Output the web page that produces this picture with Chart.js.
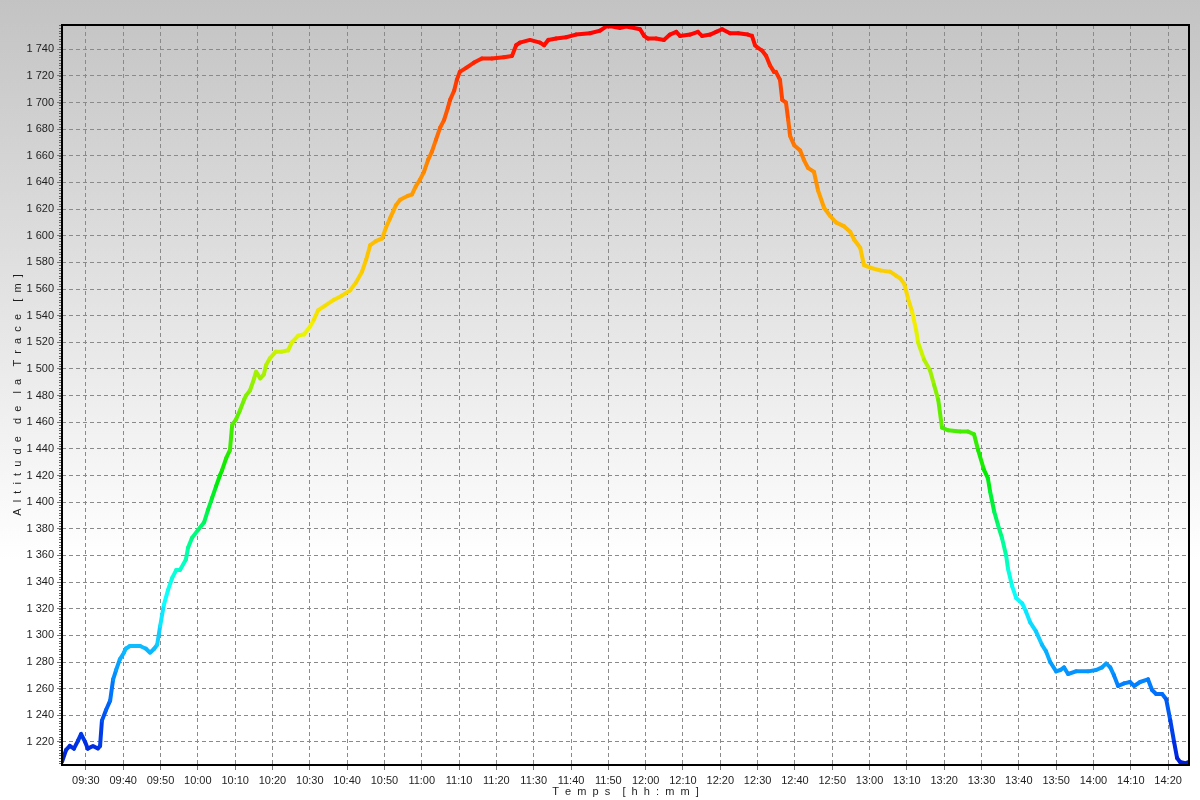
<!DOCTYPE html>
<html>
<head>
<meta charset="utf-8">
<title>Altitude de la Trace</title>
<script src="https://cdn.jsdelivr.net/npm/chart.js@4.4.1/dist/chart.umd.min.js"></script>
<style>
    html, body { margin: 0; padding: 0; background: #fff; }
    canvas { display: block; }
</style>
</head>
<body>
<canvas id="profile_canvas" width="1200" height="800"></canvas>
<script>
// temps en minutes depuis minuit
const minutes = [
    563.6, 564.7, 565.7, 566.8, 567.9, 568.7, 569.8, 570.5, 571.9, 573.2, 573.8, 574.3, 575.4, 576.5, 577.3, 578.1,
    579.1, 580.2, 580.7, 581.8, 584.5, 586.1, 587.2, 588.3, 589.1, 589.9, 590.9, 592.0, 593.1, 594.2, 595.2, 596.8,
    597.4, 598.4, 600.0, 601.7, 602.7, 603.8, 604.9, 605.9, 606.5, 607.6, 608.6, 609.2, 610.2, 611.3, 612.4, 612.9,
    614.0, 615.1, 615.6, 616.7, 617.7, 618.3, 619.3, 620.9, 622.5, 624.2, 625.2, 626.9, 628.5, 630.1, 631.1, 632.2,
    633.8, 636.5, 638.6, 640.8, 642.4, 644.0, 645.1, 646.2, 647.7, 649.4, 650.4, 651.5, 653.1, 654.2, 656.3, 657.4,
    658.4, 659.5, 660.6, 661.7, 662.7, 663.8, 664.9, 666.0, 667.0, 667.6, 668.7, 669.4, 670.2, 671.9, 674.0, 676.1,
    678.8, 682.0, 684.2, 685.3, 686.3, 689.0, 691.7, 692.8, 693.9, 696.0, 698.7, 701.3, 705.1, 707.8, 709.4, 711.0,
    713.1, 714.7, 716.9, 718.5, 719.6, 720.6, 722.8, 724.9, 726.5, 728.2, 729.2, 731.9, 734.0, 735.1, 737.3, 738.9,
    740.5, 742.6, 744.8, 747.4, 748.5, 749.3, 750.1, 751.2, 752.3, 753.3, 754.4, 754.9, 756.0, 756.6, 757.6, 758.2,
    758.7, 759.8, 761.4, 762.4, 763.5, 765.1, 766.2, 767.8, 769.4, 771.0, 773.2, 774.8, 775.9, 777.5, 778.5, 780.2,
    782.8, 785.5, 787.1, 788.2, 789.3, 790.3, 791.4, 792.5, 793.0, 794.6, 796.2, 797.3, 798.4, 799.4, 801.0, 804.3,
    806.4, 808.0, 809.1, 810.7, 811.7, 812.3, 813.4, 814.4, 815.5, 816.6, 817.1, 818.2, 819.3, 820.9, 821.9, 823.0,
    824.6, 826.2, 827.3, 828.4, 830.0, 831.1, 832.1, 833.2, 835.3, 838.6, 840.7, 842.3, 843.4, 844.5, 845.5, 846.6,
    848.2, 849.8, 850.9, 852.5, 854.6, 855.7, 856.8, 858.4, 859.5, 860.6, 861.6, 862.4, 863.2, 864.6, 865.6
]
const altitude = [
    1205, 1214, 1217, 1215, 1221, 1226, 1220, 1215, 1217, 1215, 1217, 1236, 1244, 1251, 1267, 1274,
    1282, 1287, 1290, 1292, 1292, 1290, 1287, 1290, 1293, 1307, 1323, 1334, 1343, 1349, 1349, 1357,
    1366, 1373, 1379, 1385, 1394, 1403, 1412, 1420, 1424, 1433, 1439, 1458, 1462, 1469, 1477, 1480,
    1484, 1493, 1498, 1493, 1496, 1503, 1508, 1513, 1513, 1514, 1520, 1525, 1526, 1532, 1537, 1544,
    1547, 1552, 1555, 1559, 1565, 1573, 1582, 1593, 1596, 1598, 1606, 1613, 1623, 1627, 1630, 1631,
    1637, 1642, 1648, 1657, 1663, 1672, 1681, 1687, 1696, 1702, 1709, 1717, 1723, 1726, 1730, 1733,
    1733, 1734, 1735, 1743, 1745, 1747, 1745, 1743, 1747, 1748, 1749, 1751, 1752, 1754, 1757, 1757,
    1756, 1757, 1756, 1755, 1750, 1748, 1748, 1747, 1751, 1753, 1750, 1751, 1753, 1750, 1751, 1753,
    1755, 1752, 1752, 1751, 1750, 1743, 1741, 1739, 1735, 1728, 1723, 1723, 1717, 1702, 1700, 1687,
    1675, 1668, 1664, 1657, 1651, 1648, 1634, 1621, 1615, 1610, 1607, 1603, 1597, 1591, 1578, 1576,
    1574, 1573, 1570, 1568, 1564, 1553, 1543, 1529, 1520, 1507, 1499, 1488, 1477, 1456, 1454, 1453,
    1453, 1451, 1439, 1424, 1418, 1408, 1393, 1383, 1373, 1360, 1350, 1337, 1328, 1324, 1318, 1310,
    1303, 1293, 1288, 1280, 1273, 1274, 1276, 1271, 1273, 1273, 1274, 1276, 1279, 1276, 1270, 1262,
    1264, 1265, 1262, 1265, 1267, 1259, 1256, 1256, 1252, 1236, 1220, 1208, 1205, 1204, 1205
]
const timeRange = [563.6, 865.6]
const altRange = [1202.7, 1758.2]
const timeStep = 10
const altStep = 20

// couleur du trace selon l'altitude
const colorAlt = [1205, 1260, 1300, 1340, 1420, 1480, 1540, 1600, 1660, 1720, 1755]
const colorHue = [232, 212, 192, 175, 120, 88, 56, 44, 30, 12, 0]
const colorLight = [43, 50, 53, 52, 46, 47, 48, 50, 50, 50, 50]

function altColor(a) {
    let i = 0
    while (i < colorAlt.length - 2 && a > colorAlt[i + 1]) i++
    let t = (a - colorAlt[i]) / (colorAlt[i + 1] - colorAlt[i])
    t = Math.max(0, Math.min(1, t))
    let h = colorHue[i] + t * (colorHue[i + 1] - colorHue[i])
    let l = colorLight[i] + t * (colorLight[i + 1] - colorLight[i])
    return 'hsl(' + h.toFixed(1) + ', 100%, ' + l.toFixed(1) + '%)'
}

function hhmm(v) {
    let h = Math.floor(v / 60)
    let m = Math.round(v % 60)
    return String(h).padStart(2, '0') + ':' + String(m).padStart(2, '0')
}

function spaced(text) {
    return text.split(' ').map(w => w.split('').join('  ')).join('    ')
}

const backdrop = {
    id: 'backdrop',
    beforeDraw(chart) {
        const ctx = chart.ctx
        let g = ctx.createLinearGradient(0, 0, 0, chart.height)
        g.addColorStop(0, '#c3c3c3')
        g.addColorStop(0.7, '#ffffff')
        g.addColorStop(1, '#ffffff')
        ctx.save()
        ctx.fillStyle = g
        ctx.fillRect(0, 0, chart.width, chart.height)
        ctx.restore()
    },
    afterDraw(chart) {
        const ctx = chart.ctx
        const a = chart.chartArea
        const y = chart.scales.y
        ctx.save()
        // petites graduations de l'axe vertical
        ctx.strokeStyle = '#666'
        ctx.lineWidth = 1
        ctx.beginPath()
        for (let v = Math.ceil(altRange[0] / 2) * 2; v <= altRange[1]; v += 2) {
            let py = Math.round(y.getPixelForValue(v)) + 0.5
            ctx.moveTo(a.left - 3, py)
            ctx.lineTo(a.left - 1, py)
        }
        ctx.stroke()
        ctx.strokeStyle = '#000'
        ctx.lineWidth = 2
        ctx.strokeRect(a.left, a.top, a.right - a.left, a.bottom - a.top)
        ctx.restore()
    }
}

function drawProfile() {
    let points = minutes.map((m, i) => ({x: m, y: altitude[i]}))
    const chart = new Chart(document.getElementById('profile_canvas'), {
        type: 'line',
        data: {
            datasets: [{
                label: 'Altitude',
                data: points,
                borderWidth: 4,
                pointRadius: 0,
                borderJoinStyle: 'round',
                borderCapStyle: 'round',
                tension: 0,
                segment: {
                    borderColor: ctx => altColor((ctx.p0.parsed.y + ctx.p1.parsed.y) / 2)
                }
            }]
        },
        options: {
            responsive: false,
            animation: false,
            layout: {
                padding: {top: 25, right: 11, left: 0, bottom: 0}
            },
            plugins: {
                legend: {display: false},
                tooltip: {enabled: false}
            },
            scales: {
                x: {
                    type: 'linear',
                    min: timeRange[0],
                    max: timeRange[1],
                    afterFit: scale => { scale.height = 35 },
                    border: {display: false, dash: [4, 3]},
                    grid: {
                        color: '#8a8a8a',
                        lineWidth: 1,
                        tickLength: 5,
                        tickColor: '#777',
                        tickBorderDash: []
                    },
                    ticks: {
                        stepSize: timeStep,
                        includeBounds: false,
                        autoSkip: false,
                        maxRotation: 0,
                        padding: 4,
                        color: '#1e1e1e',
                        font: {family: 'Liberation Sans', size: 11},
                        callback: v => hhmm(v)
                    },
                    title: {
                        display: true,
                        text: spaced('Temps [hh:mm]'),
                        color: '#1e1e1e',
                        font: {family: 'Liberation Sans', size: 11},
                        padding: {top: 0, bottom: 1}
                    }
                },
                y: {
                    type: 'linear',
                    min: altRange[0],
                    max: altRange[1],
                    afterFit: scale => { scale.width = 62 },
                    border: {display: false, dash: [4, 3]},
                    grid: {
                        color: '#8a8a8a',
                        lineWidth: 1,
                        tickLength: 5,
                        tickColor: '#777',
                        tickBorderDash: []
                    },
                    ticks: {
                        stepSize: altStep,
                        includeBounds: false,
                        padding: 3,
                        color: '#1e1e1e',
                        font: {family: 'Liberation Sans', size: 11},
                        callback: v => String(v).replace(/\B(?=(\d{3})+(?!\d))/g, ' ')
                    },
                    title: {
                        display: true,
                        text: spaced('Altitude de la Trace [m]'),
                        color: '#1e1e1e',
                        font: {family: 'Liberation Sans', size: 11},
                        padding: {top: 11, bottom: 0}
                    }
                }
            }
        },
        plugins: [backdrop]
    });
}

drawProfile()
</script>
</body>
</html>
